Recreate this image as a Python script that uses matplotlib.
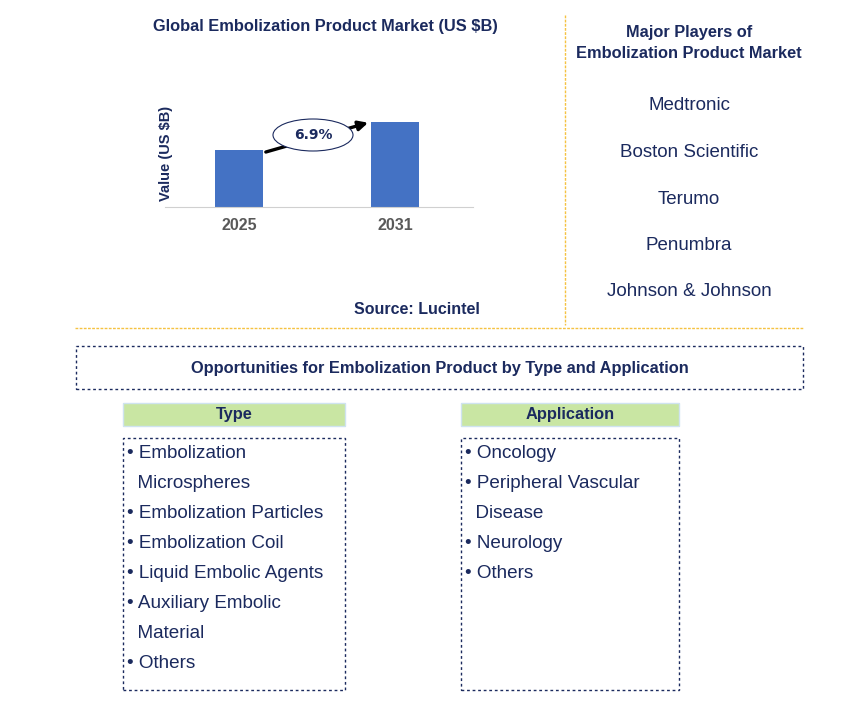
import matplotlib
matplotlib.use("Agg")
import matplotlib.pyplot as plt
from matplotlib.patches import Rectangle, Ellipse
from matplotlib.lines import Line2D

years = ["2025", "2031"]
values = [2.0, 2.98]
cagr = "6.9%"
players = ["Medtronic", "Boston Scientific", "Terumo", "Penumbra", "Johnson & Johnson"]
type_items = ["• Embolization", "  Microspheres", "• Embolization Particles", "• Embolization Coil",
              "• Liquid Embolic Agents", "• Auxiliary Embolic", "  Material", "• Others"]
app_items = ["• Oncology", "• Peripheral Vascular", "  Disease", "• Neurology", "• Others"]

W, H = 868, 712
plt.rcParams["font.family"] = "Liberation Sans"
fig = plt.figure(figsize=(W/100, H/100), dpi=100)
NAVY = "#1B2A5E"
ORANGE = "#F5C242"

def fx(x): return x / W
def fy(y): return 1 - y / H
def txt(x, y, s, **kw):
    fig.text(fx(x), fy(y), s, color=kw.pop("color", NAVY), va=kw.pop("va", "center"), **kw)
def rect(x0, y0, x1, y1, **kw):
    fig.patches.append(Rectangle((fx(x0), fy(y1)), fx(x1) - fx(x0), fy(y0) - fy(y1),
                                 transform=fig.transFigure, **kw))
def line(x0, y0, x1, y1, **kw):
    fig.lines.append(Line2D([fx(x0), fx(x1)], [fy(y0), fy(y1)], transform=fig.transFigure, **kw))

ax = fig.add_axes([fx(165), fy(207), fx(473) - fx(165), fy(100) - fy(207)])
xs = [0, 1]
ax.bar(xs, values, width=0.31, color="#4472C4", zorder=2)
ax.set_xlim(-0.474, 1.5)
ax.set_ylim(0, 3.75)
ax.set_xticks(xs)
ax.set_xticklabels(years, fontsize=11.5, fontweight="bold", color="#595959")
ax.tick_params(axis="x", length=0, pad=8)
ax.set_yticks([])
for s in ["top", "right", "left"]:
    ax.spines[s].set_visible(False)
ax.spines["bottom"].set_color("#D0D0D0")
ax.set_ylabel("Value (US $B)", fontsize=10.5, fontweight="bold", color=NAVY, labelpad=-6)

# arrow (drawn above ellipse edge but ellipse covers middle)
ax.annotate("", xy=(1 - 0.155, values[1] * 1.0), xytext=(0.155, values[0] * 0.95),
            arrowprops=dict(arrowstyle="-|>", color="black", lw=2.4, mutation_scale=14),
            zorder=3)
fig.patches.append(Ellipse((fx(313), fy(135)), fx(80), 32 / H, transform=fig.transFigure,
                           facecolor="white", edgecolor=NAVY, lw=0.8, zorder=5))
txt(313, 135, cagr, ha="center", fontsize=10, fontweight="bold", zorder=6,
    fontfamily="DejaVu Sans")

txt(325, 27, "Global Embolization Product Market (US $B)", ha="center", fontsize=11.8, fontweight="bold")
txt(417, 309, "Source: Lucintel", ha="center", fontsize=11.5, fontweight="bold")

txt(689, 33, "Major Players of", ha="center", fontsize=11.8, fontweight="bold")
txt(689, 54, "Embolization Product Market", ha="center", fontsize=11.8, fontweight="bold")
for i, p in enumerate(players):
    txt(689, 106 + i * 46.5, p, ha="center", fontsize=13.5)

line(565, 15, 565, 325, color=ORANGE, lw=1, ls=(0, (2, 1)))
line(75, 328, 803, 328, color=ORANGE, lw=1, ls=(0, (2, 1)))

rect(76, 346, 803, 389, fill=False, edgecolor=NAVY, lw=1, ls=(0, (2, 2)))
txt(440, 368, "Opportunities for Embolization Product by Type and Application", ha="center",
    fontsize=11.8, fontweight="bold")

for (x0, x1, head, items) in [(123, 345, "Type", type_items), (461, 679, "Application", app_items)]:
    rect(x0, 403, x1, 426, facecolor="#C9E6A3", edgecolor="#CFE3F0", lw=1)
    txt((x0 + x1) / 2, 415, head, ha="center", fontsize=11.8, fontweight="bold")
    rect(x0, 438, x1, 690, fill=False, edgecolor=NAVY, lw=1, ls=(0, (2, 2)))
    for i, it in enumerate(items):
        txt(x0 + 4, 453 + i * 30, it, ha="left", fontsize=13.6)

fig.savefig("out.png", dpi=100)
